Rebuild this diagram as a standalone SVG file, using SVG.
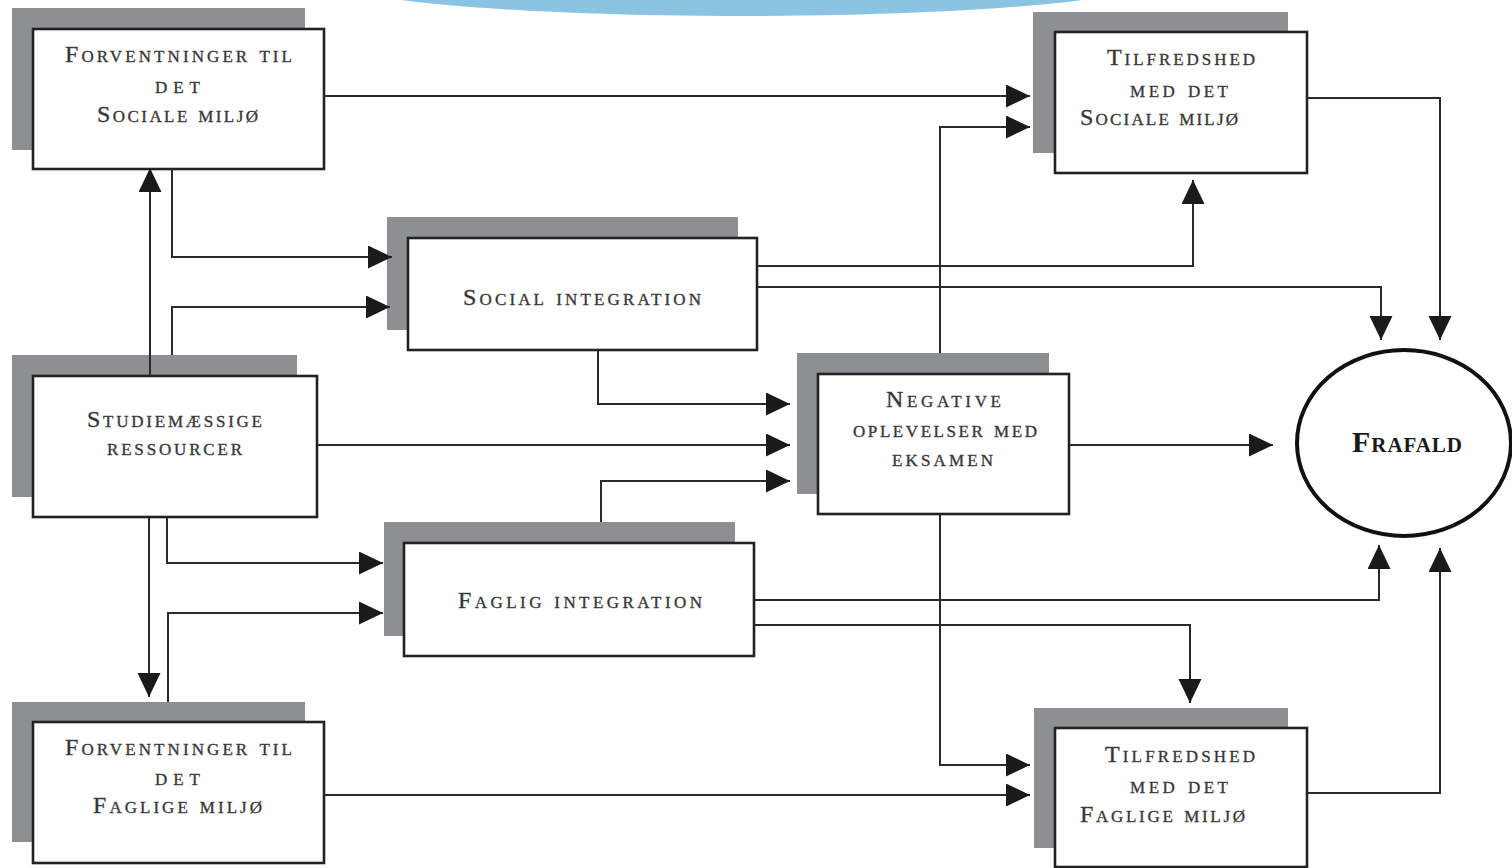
<svg xmlns="http://www.w3.org/2000/svg" width="1512" height="868" viewBox="0 0 1512 868">
<defs>
<style>
.sh{fill:#8e8f93}
.bx{fill:#fff;stroke:#222;stroke-width:2.6}
.t{font-family:"Liberation Serif","DejaVu Serif",serif;font-size:24px;font-variant:small-caps;fill:#333;stroke:#444;stroke-width:0.35;text-anchor:middle}
.big{font-size:30px;font-weight:bold;fill:#1a1a1a;stroke:none}
.c{fill:none;stroke:#2a2a2a;stroke-width:2}
</style>
<marker id="ah" markerUnits="userSpaceOnUse" markerWidth="24" markerHeight="24" refX="24" refY="11.5" orient="auto">
<path d="M0,0 L24,11.5 L0,23 z" fill="#1a1a1a"/>
</marker>
</defs>
<rect width="1512" height="868" fill="#fff"/>
<ellipse cx="742" cy="-19" rx="405" ry="35" fill="#8bc3e2"/>

<g id="n-forv-sociale">
<rect class="sh" x="12" y="8" width="293" height="142"/>
<rect class="bx" x="33" y="29" width="291" height="140"/>
<text class="t" x="178.5" y="62" textLength="227" lengthAdjust="spacing">Forventninger til</text>
<text class="t" x="177.5" y="93" textLength="45" lengthAdjust="spacing">det</text>
<text class="t" x="177.5" y="122" textLength="161" lengthAdjust="spacing">Sociale miljø</text>
</g>

<g id="n-tilf-sociale">
<rect class="sh" x="1033" y="12" width="255" height="141"/>
<rect class="bx" x="1055" y="32" width="252" height="141"/>
<text class="t" x="1181" y="65" textLength="148" lengthAdjust="spacing">Tilfredshed</text>
<text class="t" x="1179" y="97" textLength="98" lengthAdjust="spacing">med det</text>
<text class="t" x="1159" y="125" textLength="158" lengthAdjust="spacing">Sociale miljø</text>
</g>

<g id="n-social-int">
<rect class="sh" x="387" y="217" width="351" height="113"/>
<rect class="bx" x="408" y="238" width="349" height="112"/>
<text class="t" x="582" y="305" textLength="238" lengthAdjust="spacing">Social  integration</text>
</g>

<g id="n-negative">
<rect class="sh" x="797" y="353" width="252" height="141"/>
<rect class="bx" x="818" y="374" width="251" height="140"/>
<text class="t" x="943.5" y="407" textLength="115" lengthAdjust="spacing">Negative</text>
<text class="t" x="945" y="437" textLength="184" lengthAdjust="spacing">oplevelser med</text>
<text class="t" x="942.5" y="466" textLength="101" lengthAdjust="spacing">eksamen</text>
</g>

<g id="n-studie">
<rect class="sh" x="12" y="355" width="285" height="142"/>
<rect class="bx" x="33" y="376" width="284" height="141"/>
<text class="t" x="174.5" y="427" textLength="175" lengthAdjust="spacing">Studiemæssige</text>
<text class="t" x="174.5" y="455" textLength="135" lengthAdjust="spacing">ressourcer</text>
</g>

<g id="n-faglig-int">
<rect class="sh" x="384" y="522" width="351" height="114"/>
<rect class="bx" x="404" y="543" width="350" height="113"/>
<text class="t" x="580" y="608" textLength="244" lengthAdjust="spacing">Faglig  integration</text>
</g>

<g id="n-forv-faglige">
<rect class="sh" x="12" y="702" width="293" height="140"/>
<rect class="bx" x="33" y="722" width="291" height="141"/>
<text class="t" x="178.5" y="755" textLength="227" lengthAdjust="spacing">Forventninger til</text>
<text class="t" x="177.5" y="785" textLength="45" lengthAdjust="spacing">det</text>
<text class="t" x="177.5" y="813" textLength="169" lengthAdjust="spacing">Faglige  miljø</text>
</g>

<g id="n-tilf-faglige">
<rect class="sh" x="1034" y="708" width="254" height="140"/>
<rect class="bx" x="1055" y="728" width="252" height="139"/>
<text class="t" x="1180" y="762" textLength="150" lengthAdjust="spacing">Tilfredshed</text>
<text class="t" x="1179" y="793" textLength="98" lengthAdjust="spacing">med det</text>
<text class="t" x="1162.5" y="822" textLength="165" lengthAdjust="spacing">Faglige miljø</text>
</g>

<g id="n-frafald">
<ellipse cx="1404" cy="443" rx="107" ry="93" fill="#fff" stroke="#111" stroke-width="4"/>
<text class="t big" x="1407" y="452" textLength="110" lengthAdjust="spacing">Frafald</text>
</g>

<g id="connectors">
<path class="c" marker-end="url(#ah)" d="M324,96 H1030"/>
<path class="c" marker-end="url(#ah)" d="M150,376 V168"/>
<path class="c" marker-end="url(#ah)" d="M172,169 V257 H392"/>
<path class="c" marker-end="url(#ah)" d="M172,355 V307 H390"/>
<path class="c" marker-end="url(#ah)" d="M149,517 V697"/>
<path class="c" marker-end="url(#ah)" d="M167,517 V563 H383"/>
<path class="c" marker-end="url(#ah)" d="M168,702 V613 H383"/>
<path class="c" marker-end="url(#ah)" d="M324,795 H1030"/>
<path class="c" marker-end="url(#ah)" d="M317,445 H790"/>
<path class="c" marker-end="url(#ah)" d="M598,350 V404 H790"/>
<path class="c" marker-end="url(#ah)" d="M601,522 V481 H790"/>
<path class="c" marker-end="url(#ah)" d="M1069,445 H1273"/>
<path class="c" marker-end="url(#ah)" d="M940,353 V127 H1030"/>
<path class="c" marker-end="url(#ah)" d="M940,514 V765 H1030"/>
<path class="c" marker-end="url(#ah)" d="M757,266 H1193 V180"/>
<path class="c" marker-end="url(#ah)" d="M757,287 H1381 V340"/>
<path class="c" marker-end="url(#ah)" d="M1307,98 H1440 V340"/>
<path class="c" marker-end="url(#ah)" d="M754,600 H1379 V545"/>
<path class="c" marker-end="url(#ah)" d="M754,625 H1190 V703"/>
<path class="c" marker-end="url(#ah)" d="M1307,793 H1440 V548"/>
</g>
</svg>
